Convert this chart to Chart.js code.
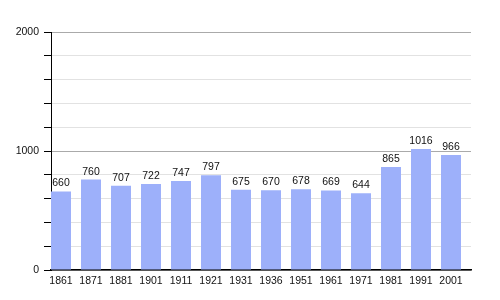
<!DOCTYPE html>
<html>
<head>
<meta charset="UTF-8">
<title>Population</title>
<script src="https://cdn.jsdelivr.net/npm/chart.js"></script>
<style>
  body { margin: 0; background: #fff; }
  #wrap { width: 500px; height: 300px; }
</style>
</head>
<body>
<div id="wrap"><canvas id="popChart" width="500" height="300"></canvas></div>
<script>
// recensements
const years = ['1861', '1871', '1881', '1901', '1911', '1921', '1931', '1936', '1951', '1961', '1971', '1981', '1991', '2001'];
const population = [660, 760, 707, 722, 747, 797, 675, 670, 678, 669, 644, 865, 1016, 966];
const yLabels = [0, 1000, 2000];

// bars sit on the left of each slot, so use a linear x axis with one unit per year
const points = population.map((v, i) => ({ x: i + 1 / 3, y: v }));

// value written above each bar
const valueLabels = {
  id: 'valueLabels',
  afterDatasetsDraw(chart) {
    const ctx = chart.ctx;
    const meta = chart.getDatasetMeta(0);
    ctx.save();
    ctx.font = '10.5px "Liberation Sans", Arial, sans-serif';
    ctx.fillStyle = '#111';
    ctx.textAlign = 'center';
    ctx.textBaseline = 'alphabetic';
    meta.data.forEach((bar, i) => {
      ctx.fillText(population[i], bar.x, bar.y - 5);
    });
    ctx.restore();
  }
};

new Chart(document.getElementById('popChart'), {
  type: 'bar',
  data: {
    datasets: [{
      data: points,
      backgroundColor: '#9db0fa',
      borderWidth: 0,
      categoryPercentage: 1,
      barPercentage: 2 / 3
    }]
  },
  options: {
    responsive: false,
    animation: false,
    layout: { padding: { top: 32, right: 29, left: 0, bottom: 0 } },
    plugins: { legend: { display: false }, tooltip: { enabled: false } },
    scales: {
      x: {
        type: 'linear',
        min: 0,
        max: years.length,
        offset: false,
        grid: { display: false, drawTicks: false, offset: false },
        border: { color: '#000', width: 1.5 },
        afterBuildTicks: scale => {
          scale.ticks = years.map((y, i) => ({ value: i + 1 / 3 }));
        },
        afterFit: scale => { scale.height = 30; },
        ticks: {
          autoSkip: false,
          maxRotation: 0,
          padding: 5,
          color: '#111',
          font: { family: '"Liberation Sans", Arial, sans-serif', size: 10.5 },
          callback: (value, index) => years[index]
        }
      },
      y: {
        min: 0,
        max: 2000,
        afterFit: scale => { scale.width = 51; },
        grid: {
          color: ctx => (ctx.tick && ctx.tick.value % 1000 === 0) ? '#aaaaaa' : '#e2e2e2',
          tickColor: '#000',
          tickLength: 7
        },
        border: { color: '#000', width: 1 },
        ticks: {
          stepSize: 200,
          padding: 5,
          color: '#111',
          font: { family: '"Liberation Sans", Arial, sans-serif', size: 10.5 },
          callback: v => yLabels.includes(v) ? v : ''
        }
      }
    }
  },
  plugins: [valueLabels]
});
</script>
</body>
</html>
